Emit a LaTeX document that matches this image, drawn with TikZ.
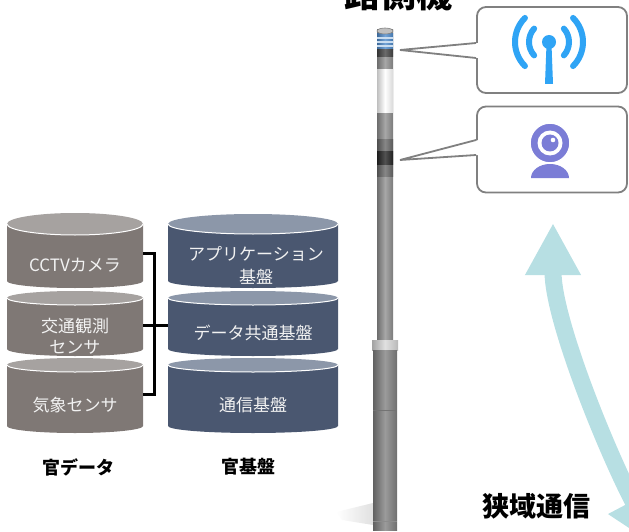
\documentclass[tikz,border=0pt]{standalone}
\usepackage{fontspec}
\setmainfont{Noto Sans CJK JP}
\usetikzlibrary{arrows.meta,calc}

\definecolor{datagray}{RGB}{127,120,117}
\definecolor{datalid}{RGB}{166,162,160}
\definecolor{basenavy}{RGB}{74,87,112}
\definecolor{baselid}{RGB}{140,151,169}
\definecolor{antblue}{RGB}{47,164,245}
\definecolor{campurple}{RGB}{123,125,214}
\definecolor{commcyan}{RGB}{183,223,227}
\definecolor{framegray}{RGB}{128,128,128}
\definecolor{poleshaft}{RGB}{145,145,145}
\definecolor{polebase}{RGB}{130,130,130}
\definecolor{poledark}{RGB}{70,70,70}
\definecolor{polemid}{RGB}{105,105,105}
\definecolor{poleblack}{RGB}{38,38,38}
\definecolor{stripeblue}{RGB}{80,140,205}

% one layer of a stacked database:
% centre x, half width, lid y, lid ry, floor y, floor ry, body colour, lid colour
\newcommand{\dblayer}[8]{%
  \fill[#7] (#1-#2,#3) -- (#1-#2,#5) arc[start angle=180, end angle=0, x radius=#2, y radius=#6] -- (#1+#2,#3) -- cycle;
  \fill[#8] (#1,#3) ellipse [x radius=#2, y radius=#4];
  \draw[white, line width=1pt] (#1-#2,#3) arc[start angle=180, end angle=0, x radius=#2, y radius=#4];
}
% a round band of the pole: x from, x to, y from, y to, colour
\newcommand{\polesection}[5]{%
  \shade[left color=#5!75!black, right color=#5!85!black, middle color=#5!80!white] (#1,#3) rectangle (#2,#4);
}

\begin{document}
\begin{tikzpicture}[
    x = 1pt,
    y = -1pt,
    dbtext/.style = {text=white!95!black, font=\fontsize{17}{22}\selectfont,
    align=center, inner sep=0pt},
    caption/.style = {font=\bfseries\fontsize{18}{22}\selectfont, inner sep=0pt},
    callout/.style = {draw=framegray, line width=1.8pt, fill=white,
    rounded corners=9pt, minimum width=150pt, minimum height=86pt, inner sep=0pt},
    tail/.style = {draw=framegray, line width=1.8pt, line join=miter},
    bracket/.style = {draw=black, line width=3pt},
    commarrow/.style = {draw=commcyan, line width=17pt,
    {Triangle[length=52pt,width=52pt]}-{Triangle[length=52pt,width=52pt]}},
]

\useasboundingbox (0,0) rectangle (629,532);
\clip (0,0) rectangle (629,532);

% gov data stack
\dblayer{75}{68}{224}{11}{281}{7}{datagray}{datalid}
\dblayer{75}{68}{298}{7}{349}{7}{datagray}{datalid}
\dblayer{75}{68}{365}{7}{426}{7}{datagray}{datalid}

% gov platform stack
\dblayer{253}{85}{224}{10}{281}{7}{basenavy}{baselid}
\dblayer{253}{85}{298}{7}{349}{7}{basenavy}{baselid}
\dblayer{253}{85}{365}{7}{426}{7}{basenavy}{baselid}

\node[dbtext] (cctv_layer) at (75,265) {CCTVカメラ};
\node[dbtext, font=\fontsize{17}{21}\selectfont] (traffic_layer) at (75,336) {交通観測\\センサ};
\node[dbtext] (weather_layer) at (75,405) {気象センサ};
\node[dbtext, font=\fontsize{17}{23}\selectfont] (app_layer) at (256,265) {アプリケーション\\基盤};
\node[dbtext] (share_layer) at (253,333) {データ共通基盤};
\node[dbtext] (net_layer) at (253,405) {通信基盤};

\node[caption] (data_cap) at (78,467) {官データ};
\node[caption] (base_cap) at (248,467) {官基盤};

% bracket joining the data layers to the platform
\coordinate (cctv_tap) at (143,253);
\coordinate (traffic_tap) at (143,325);
\coordinate (weather_tap) at (143,394);
\coordinate (base_tap) at (168,325);
\draw[bracket] (cctv_tap) -- ++(11,0) |- (weather_tap);
\draw[bracket] (traffic_tap) -- (base_tap);

% roadside pole
\shade[left color=white, right color=black!12] (336,512) -- (373,503) -- (373,525) -- (342,520) -- cycle;
\polesection{377}{393}{30}{342}{poleshaft}
\polesection{377}{393}{34}{50}{stripeblue}
\foreach \y in {38,42,46}
    \draw[white!70!stripeblue, line width=1.2pt] (377,\y) -- (393,\y);
\polesection{377}{393}{50}{57}{poledark}
\polesection{377}{393}{70}{113}{white}
\polesection{377}{393}{140}{176}{polemid}
\polesection{377}{393}{152}{164}{poleblack}
\fill[black!25] (385,31) ellipse [x radius=8, y radius=3];
\draw[black!50, line width=0.6pt] (385,31) ellipse [x radius=8, y radius=3];
\polesection{372}{398}{340}{350}{white!85!black}
\polesection{373}{397}{350}{530}{polebase}
\draw[black!55, line width=0.8pt] (373,410) -- (397,410);
\draw[black!45, line width=0.8pt] (373,521) -- (397,521);

\node[caption, font=\bfseries\fontsize{36}{40}\selectfont, anchor=base] (rsu_cap) at (398,8) {路側機};

% call-outs
\coordinate (ant_pt) at (400,50);
\coordinate (cam_pt) at (400,160);
\node[callout] (ant_box) at (552,50) {};
\node[callout] (cam_box) at (552,149.5) {};
\fill[white] ($(ant_box.west)+(2.5,-7)$) -- (ant_pt) -- ($(ant_box.west)+(2.5,8)$) -- cycle;
\draw[tail] ($(ant_box.west)+(0,-7)$) -- (ant_pt) -- ($(ant_box.west)+(0,8)$);
\fill[white] ($(cam_box.west)+(2.5,-9.5)$) -- (cam_pt) -- ($(cam_box.west)+(2.5,5.5)$) -- cycle;
\draw[tail] ($(cam_box.west)+(0,-9.5)$) -- (cam_pt) -- ($(cam_box.west)+(0,5.5)$);

% antenna icon
\fill[antblue] (549,42) circle (7);
\fill[antblue] (546.6,42) -- (551.4,42) -- (553,84) -- (545,84) -- cycle;
\foreach \a/\r in {42/20,45/34} {
    \draw[antblue, line width=6pt, line cap=round]
        (549,42) ++(-\a:\r) arc[start angle=-\a, end angle=\a, radius=\r];
    \draw[antblue, line width=6pt, line cap=round]
        (549,42) ++(180-\a:\r) arc[start angle=180-\a, end angle=180+\a, radius=\r];
}

% webcam icon
\fill[campurple] (531,178) arc[start angle=180, end angle=360, x radius=19, y radius=14] -- cycle;
\fill[campurple, draw=white, line width=1.5pt] (550,143) circle (20);
\fill[white] (550,143) circle (12.5);
\fill[campurple] (550,143) circle (8.5);
\fill[white] (553,140) circle (2.3);

% short range link
\coordinate (comm_top) at (553,223);
\coordinate (comm_bot) at (657,547);
\draw[commarrow] (comm_top) .. controls (553,320) and (607,452) .. (comm_bot);

\node[caption, font=\bfseries\fontsize{27}{30}\selectfont] (comm_cap) at (536,506) {狭域通信};

\end{tikzpicture}
\end{document}
